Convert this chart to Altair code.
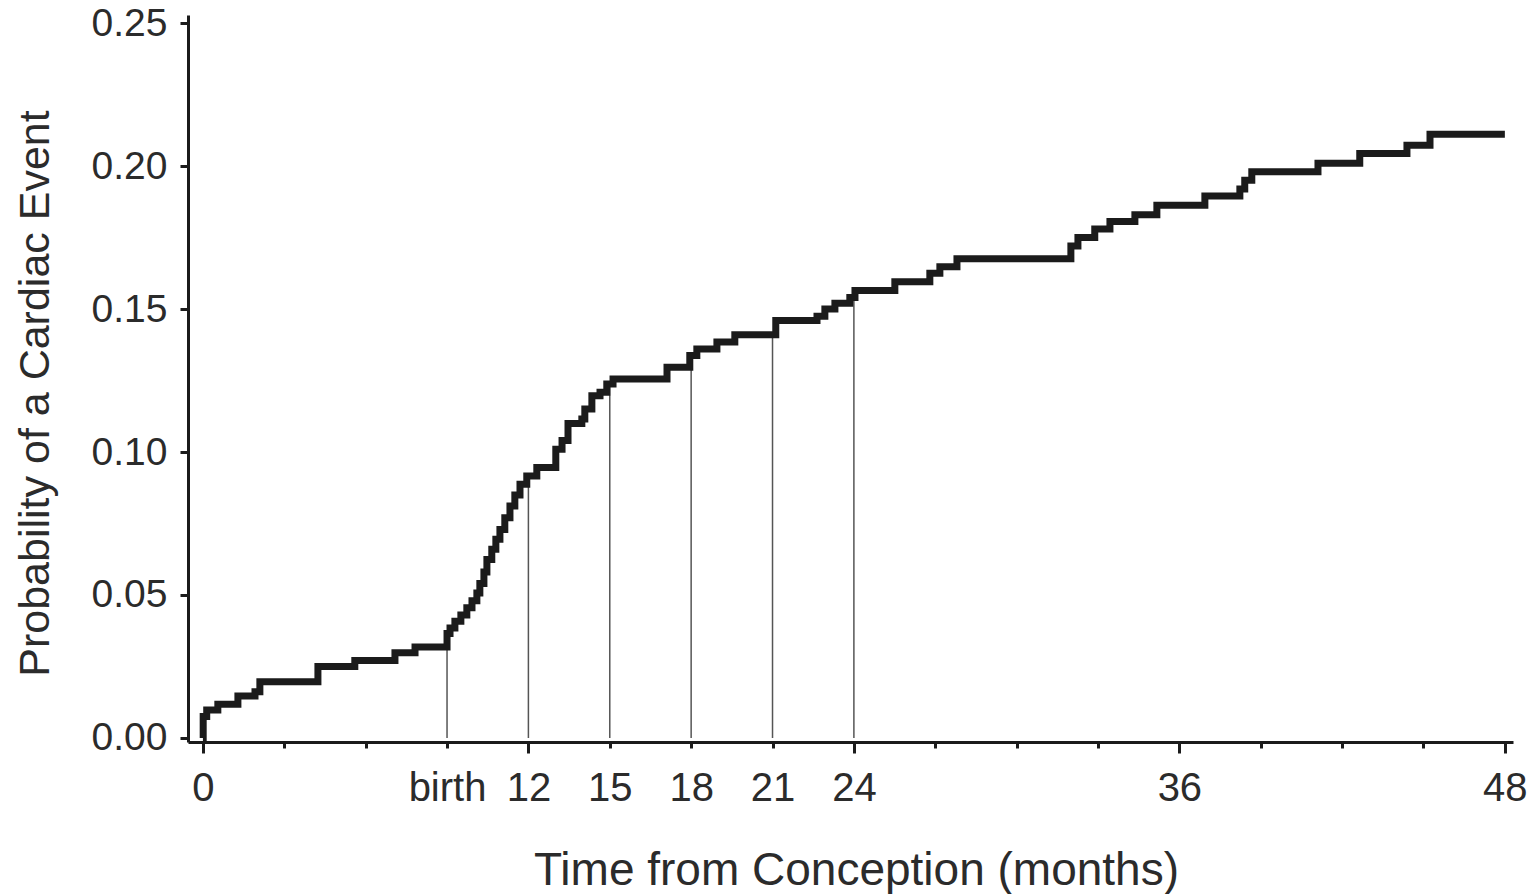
import altair as alt
import pandas as pd

# Step curve: time from conception (months) at which the cumulative probability steps up
months = [0.00, 0.01, 0.14, 0.55, 1.29, 1.92, 2.10, 4.24, 5.60, 7.08, 7.82,
          9.00, 9.11, 9.29, 9.51, 9.73, 9.92, 10.10, 10.21, 10.36, 10.47, 10.65,
          10.80, 10.95, 11.13, 11.32, 11.50, 11.69, 11.94, 12.31, 13.01, 13.24,
          13.46, 13.97, 14.08, 14.34, 14.64, 14.89, 15.12, 17.11, 17.95, 18.21,
          18.95, 19.61, 21.12, 22.64, 22.93, 23.30, 23.85, 24.04, 25.51, 26.80,
          27.17, 27.80, 32.00, 32.26, 32.88, 33.44, 34.36, 35.17, 36.94, 38.23,
          38.41, 38.67, 41.11, 42.65, 44.39, 45.24, 48.00]
probs = [0.0000, 0.0075, 0.0098, 0.0118, 0.0147, 0.0162, 0.0197, 0.0250, 0.0271, 0.0298, 0.0318,
         0.0365, 0.0385, 0.0408, 0.0430, 0.0455, 0.0480, 0.0507, 0.0540, 0.0580, 0.0624, 0.0660,
         0.0695, 0.0729, 0.0770, 0.0811, 0.0850, 0.0887, 0.0916, 0.0946, 0.1010, 0.1040,
         0.1100, 0.1115, 0.1150, 0.1197, 0.1209, 0.1238, 0.1255, 0.1296, 0.1337, 0.1360,
         0.1385, 0.1410, 0.1460, 0.1475, 0.1500, 0.1520, 0.1540, 0.1565, 0.1595, 0.1625,
         0.1648, 0.1676, 0.1720, 0.1750, 0.1780, 0.1806, 0.1830, 0.1863, 0.1895, 0.1920,
         0.1950, 0.1980, 0.2010, 0.2044, 0.2073, 0.2111, 0.2111]

marker_months = [9, 12, 15, 18, 21, 24]
x_tick_values = [0, 3, 6, 9, 12, 15, 18, 21, 24, 27, 30, 33, 36, 39, 42, 45, 48]
y_tick_values = [0.00, 0.05, 0.10, 0.15, 0.20, 0.25]

df = pd.DataFrame({"month": months, "prob": probs})
tops = [max(p for m, p in zip(months, probs) if m < t) for t in marker_months]
mk = pd.DataFrame({"month": marker_months, "top": tops, "zero": [0.0] * len(marker_months)})

FONT = "Liberation Sans"
INK = "#1b1b1b"
TXT = "#2b2b2b"

x_scale = alt.Scale(domain=[-0.55, 48.3], nice=False, zero=False)
y_scale = alt.Scale(domain=[-0.0014, 0.2528], nice=False, zero=False)

major_test = "datum.value % 12 === 0"

x_axis = alt.Axis(
    values=x_tick_values,
    labelExpr="datum.value == 9 ? 'birth' : (indexof([0,12,15,18,21,24,36,48], datum.value) >= 0 ? datum.label : '')",
    title="Time from Conception (months)",
    titleFont=FONT, titleFontSize=46, titleFontWeight="normal", titleColor=TXT,
    titleX=668, titleY=142, titleBaseline="alphabetic", titleAlign="center",
    labelFont=FONT, labelFontSize=40, labelColor=TXT,
    labelPadding={"condition": {"test": major_test, "value": 15}, "value": 20},
    labelOverlap=False, labelFlush=False,
    tickSize={"condition": {"test": major_test, "value": 11}, "value": 6},
    tickWidth=3, tickColor=INK, domainWidth=3, domainColor=INK, grid=False,
)
y_axis = alt.Axis(
    values=y_tick_values, format=".2f",
    title="Probability of a Cardiac Event",
    titleFont=FONT, titleFontSize=43, titleFontWeight="normal", titleColor=TXT,
    titleX=-153, titleY=378, titleAngle=-90, titleBaseline="middle", titleAlign="center",
    labelFont=FONT, labelFontSize=39, labelColor=TXT, labelPadding=13,
    tickSize=8, tickWidth=3, tickColor=INK, domainWidth=3, domainColor=INK, grid=False,
)

rules = alt.Chart(mk).mark_rule(color="#555555", strokeWidth=1.5).encode(
    x=alt.X("month:Q", scale=x_scale, axis=x_axis),
    y=alt.Y("zero:Q", scale=y_scale, axis=y_axis),
    y2="top:Q",
)

line = alt.Chart(df).mark_line(
    interpolate="step-after", color=INK, strokeWidth=7, strokeJoin="miter"
).encode(
    x=alt.X("month:Q", scale=x_scale, axis=x_axis),
    y=alt.Y("prob:Q", scale=y_scale, axis=y_axis),
)

chart = alt.layer(rules, line).properties(
    width=1325, height=727,
    autosize=alt.AutoSizeParams(type="none"),
    padding={"left": 188, "top": 15, "right": 25, "bottom": 152},
    background="white",
).configure_view(stroke=None)

chart.save("out.html", embed_options={"renderer": "svg", "actions": False})
